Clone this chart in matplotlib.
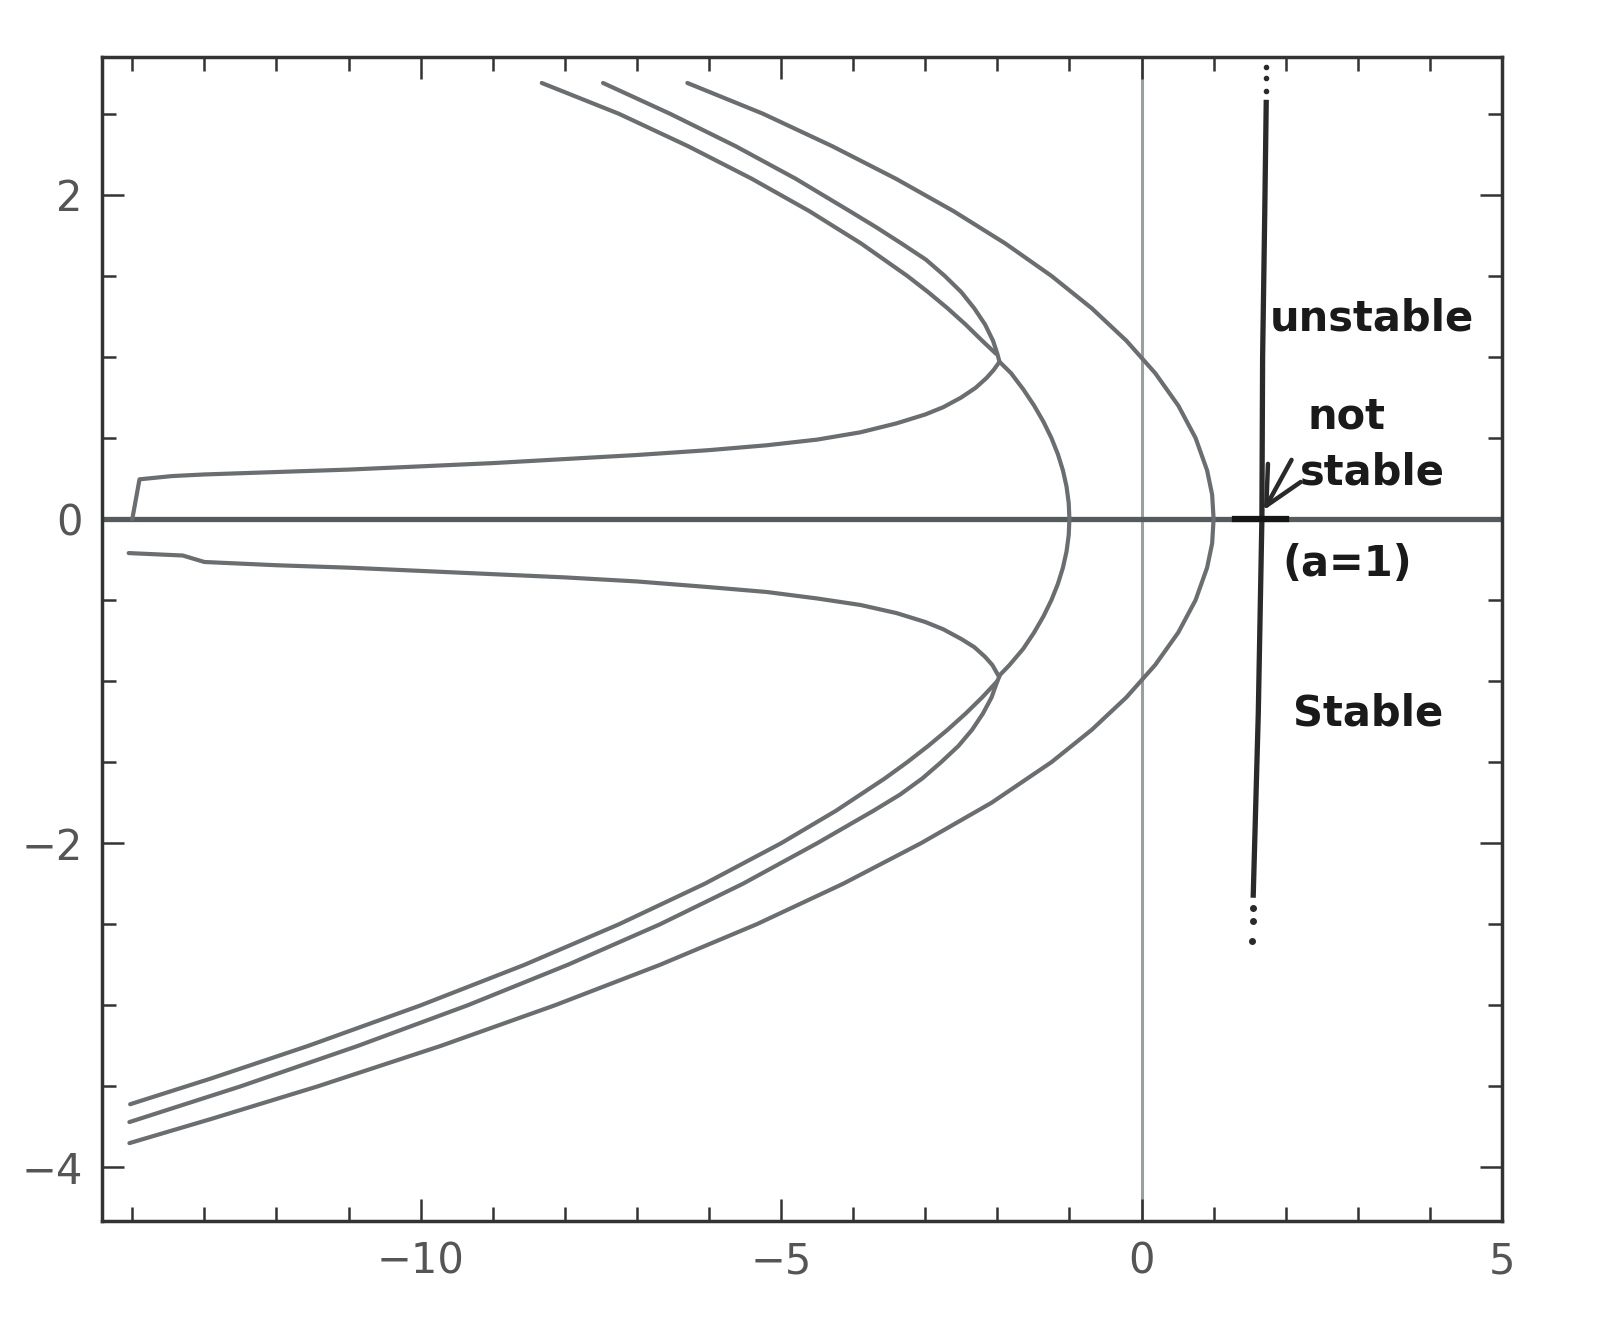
import matplotlib.pyplot as plt
from matplotlib.ticker import MultipleLocator

outer_x = [-6.3, -5.25, -4.29, -3.41, -2.61, -1.89, -1.25, -0.69, -0.21, 0.19, 0.51,
           0.75, 0.91, 0.98, 1.0, 0.98, 0.91, 0.75, 0.51, 0.19, -0.21, -0.69, -1.25,
           -2.08, -3.06, -4.14, -5.34, -6.68, -8.14, -9.72, -11.43, -12.9, -14.04]
outer_y = [2.69, 2.5, 2.3, 2.1, 1.9, 1.7, 1.5, 1.3, 1.1, 0.9, 0.7,
           0.5, 0.3, 0.15, 0.0, -0.15, -0.3, -0.5, -0.7, -0.9, -1.1, -1.3, -1.5,
           -1.75, -2.0, -2.25, -2.5, -2.75, -3.0, -3.25, -3.5, -3.7, -3.85]

middle_x = [-7.47, -6.54, -5.63, -4.8, -4.05, -3.68, -3.33, -2.99, -2.73, -2.5, -2.32,
            -2.17, -2.06, -2.0,
            -1.97, -1.81, -1.64, -1.49, -1.36, -1.25, -1.16, -1.09, -1.04, -1.01, -1.0,
            -1.01, -1.04, -1.09, -1.16, -1.25, -1.36, -1.49, -1.64, -1.83, -1.96,
            -2.0, -2.08, -2.2, -2.35, -2.54, -2.78, -3.04, -3.35, -3.72, -4.5, -5.53,
            -6.68, -7.96, -9.35, -10.87, -12.5, -14.04]
middle_y = [2.69, 2.5, 2.3, 2.1, 1.9, 1.8, 1.7, 1.6, 1.5, 1.4, 1.3,
            1.2, 1.1, 1.02,
            0.97, 0.9, 0.8, 0.7, 0.6, 0.5, 0.4, 0.3, 0.2, 0.1, 0.0,
            -0.1, -0.2, -0.3, -0.4, -0.5, -0.6, -0.7, -0.8, -0.9, -0.96,
            -1.0, -1.1, -1.2, -1.3, -1.4, -1.5, -1.6, -1.7, -1.8, -2.0, -2.25,
            -2.5, -2.75, -3.0, -3.25, -3.5, -3.72]

inner_up_x = [-8.32, -7.25, -6.29, -5.41, -4.61, -3.89, -3.25, -2.96, -2.69, -2.44,
              -2.21, -2.02]
inner_up_y = [2.69, 2.5, 2.3, 2.1, 1.9, 1.7, 1.5, 1.4, 1.3, 1.2, 1.1, 1.02]

inner_low_x = [-2.0, -2.21, -2.44, -2.69, -2.96, -3.25, -3.56, -4.24, -5.0, -6.06,
               -7.25, -8.56, -10.0, -11.56, -12.9, -14.03]
inner_low_y = [-1.0, -1.1, -1.2, -1.3, -1.4, -1.5, -1.6, -1.8, -2.0, -2.25,
               -2.5, -2.75, -3.0, -3.25, -3.45, -3.61]

branch_up_x = [-1.97, -2.05, -2.15, -2.3, -2.5, -2.75, -3.0, -3.4, -3.9, -4.5, -5.2,
               -6.0, -7.0, -8.0, -9.0, -10.0, -11.0, -12.0, -13.0, -13.45, -13.9, -14.0]
branch_up_y = [0.97, 0.92, 0.87, 0.81, 0.75, 0.69, 0.645, 0.59, 0.535, 0.49, 0.455,
               0.425, 0.395, 0.37, 0.345, 0.325, 0.305, 0.29, 0.275, 0.265, 0.245, 0.0]

branch_low_x = [-1.98, -2.07, -2.17, -2.32, -2.5, -2.75, -3.0, -3.4, -3.9, -4.5, -5.2,
                -6.0, -7.0, -8.0, -9.0, -10.0, -11.0, -12.0, -13.0, -13.3, -14.05]
branch_low_y = [-0.97, -0.9, -0.85, -0.79, -0.74, -0.68, -0.635, -0.58, -0.53, -0.49,
                -0.45, -0.42, -0.385, -0.36, -0.34, -0.32, -0.3, -0.285, -0.265,
                -0.225, -0.21]

# hand drawn boundary (a = 1)
hand_x = [1.73, 1.71, 1.68, 1.67, 1.62, 1.55]
hand_y = [2.57, 1.9, 1.0, 0.0, -1.2, -2.32]
dots_top_x = [1.73, 1.73, 1.73]
dots_top_y = [2.79, 2.72, 2.64]
dots_bot_x = [1.55, 1.54, 1.53]
dots_bot_y = [-2.4, -2.48, -2.6]

xticks = [-10, -5, 0, 5]
yticks = [2, 0, -2, -4]

fig = plt.figure(figsize=(15.99, 13.42), dpi=100)
ax = fig.add_axes([0.0638, 0.0902, 0.8755, 0.8673])

curve_col = '#6a6e70'
lw = 3.0
ax.axvline(0, color='#9aa0a0', lw=2.2, zorder=1)
ax.plot([-14.42, 5.0], [0, 0], color='#555a5c', lw=3.8, zorder=2)

for xs, ys in [(outer_x, outer_y), (middle_x, middle_y), (inner_up_x, inner_up_y),
               (inner_low_x, inner_low_y), (branch_up_x, branch_up_y),
               (branch_low_x, branch_low_y)]:
    ax.plot(xs, ys, color=curve_col, lw=lw, solid_capstyle='round',
            solid_joinstyle='round', zorder=3)

# hand annotations
ax.plot(hand_x, hand_y, color='#2a2a2a', lw=3.8, zorder=4)
ax.plot(dots_top_x, dots_top_y, 'o', color='#2a2a2a', ms=3, zorder=4)
ax.plot(dots_bot_x, dots_bot_y, 'o', color='#2a2a2a', ms=4, zorder=4)
ax.plot([1.3, 2.0], [0, 0], color='#151515', lw=4.5, zorder=4)
ax.annotate('', xy=(1.68, 0.04), xytext=(2.1, 0.38),
            arrowprops=dict(arrowstyle='->,head_length=0.9,head_width=0.45',
                            color='#2a2a2a', lw=3.2, mutation_scale=30), zorder=5)

hand_font = dict(color='#1a1a1a', fontsize=30, ha='center', va='center',
                 family='DejaVu Sans', fontweight='bold')
ax.text(3.2, 1.24, 'unstable', **hand_font)
ax.text(2.85, 0.63, 'not', **hand_font)
ax.text(3.2, 0.29, 'stable', **hand_font)
ax.text(2.85, -0.28, '(a=1)', **hand_font)
ax.text(3.15, -1.2, 'Stable', **hand_font)

ax.set_xlim(-14.42, 5.0)
ax.set_ylim(-4.33, 2.85)
ax.set_xticks(xticks)
ax.set_xticklabels(['\u221210', '\u22125', '0', '5'])
ax.set_yticks(yticks)
ax.set_yticklabels(['2', '0', '\u22122', '\u22124'])
ax.xaxis.set_minor_locator(MultipleLocator(1))
ax.yaxis.set_minor_locator(MultipleLocator(0.5))
ax.tick_params(which='both', direction='in', top=True, right=True,
               colors='#333333', width=1.8, labelcolor='#555555',
               labelsize=30, pad=14)
ax.tick_params(which='major', length=16)
ax.tick_params(which='minor', length=10)
for s in ax.spines.values():
    s.set_linewidth(2.5)
    s.set_color('#333333')

fig.savefig('out.png', dpi=100)
